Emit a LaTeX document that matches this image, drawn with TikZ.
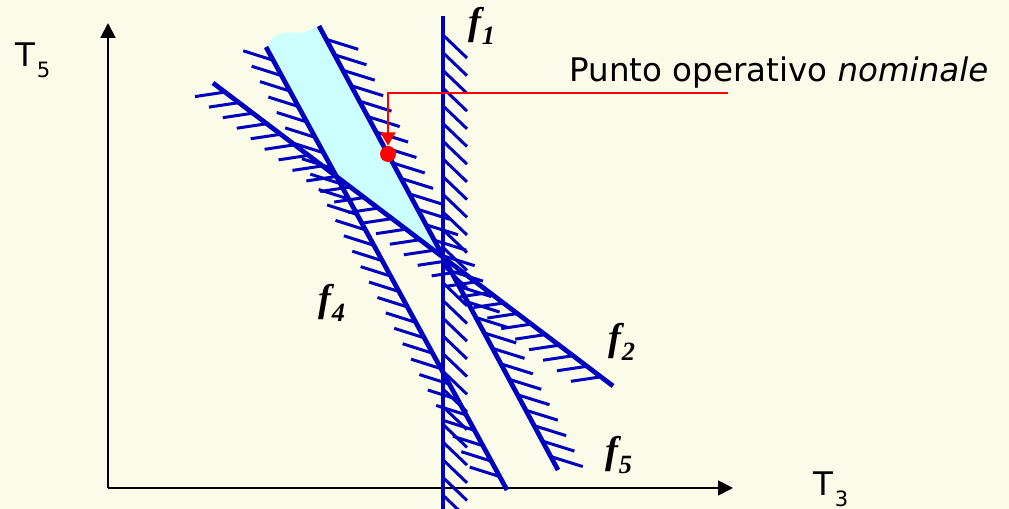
\documentclass[tikz,border=0pt]{standalone}
\usepackage{fontspec}
\setmainfont{DejaVu Sans}
\newfontfamily\labfont{Liberation Serif}
\usepackage{tikz}
\usetikzlibrary{arrows.meta,calc}
\definecolor{paper}{HTML}{FAFBE8}
\definecolor{bound}{HTML}{0000C0}
\definecolor{feas}{HTML}{CCFFFF}
\definecolor{opred}{HTML}{FF0000}
\tikzset{
  axis/.style={-{Triangle[length=8.5pt,width=8.5pt]},line width=1.1pt,draw=black},
  bline/.style={line width=2.7pt,draw=bound},
  hatch/.style={line width=1.7pt,draw=bound},
  flabel/.style={font=\labfont\bfseries\itshape\fontsize{22}{22}\selectfont,inner sep=0pt},
  axlabel/.style={font=\fontsize{18.5}{18.5}\selectfont,inner sep=0pt,anchor=base west},
  lead/.style={-{Triangle[length=7.5pt,width=8.5pt]},line width=1.1pt,draw=opred},
  opdot/.style={circle,fill=opred,inner sep=0pt,minimum size=0.32cm},
}
\newcommand{\fsub}[1]{\raisebox{-0.25em}{\fontsize{15}{15}\selectfont #1}}
\newcommand{\tsub}[1]{\kern1pt\raisebox{-5.7pt}{\fontsize{12}{12}\selectfont #1}}

\begin{document}
\begin{tikzpicture}[x=0.02cm,y=-0.02cm]
  \fill[paper] (0,0) rectangle (1009,509);
  \useasboundingbox (0,0) rectangle (1009,509);
  \coordinate (o) at (108,488); \coordinate (ytip) at (108,23); \coordinate (xtip) at (733,488);
  \coordinate (f1a) at (443,16); \coordinate (f1b) at (443,509);
  \coordinate (f2a) at (213,83); \coordinate (f2b) at (613,386);
  \coordinate (f4a) at (266,47); \coordinate (f4b) at (507,490);
  \coordinate (f5a) at (319,26); \coordinate (f5b) at (558,470);
  \coordinate (q) at (intersection of f4a--f4b and f2a--f2b);
  \coordinate (p) at (intersection of f2a--f2b and f5a--f5b);
  % feasible region
  \fill[feas] (f5a) -- (p) -- (q) -- (268,45) .. controls (272,34) and (285,31) .. (298,33)
    .. controls (304,34) and (310,29) .. (f5a) -- cycle;
  % axes
  \draw[axis] (o) -- (ytip); \draw[axis] (o) -- (xtip);
  \node[axlabel] (t5) at (15,67) {T\tsub{5}};
  \node[axlabel] (t3) at (813,496) {T\tsub{3}};
  % constraints and their hatching
  \foreach \k in {0,...,26} \draw[hatch] ($(f1a)+(0,19+17.7*\k)$) -- ++(24,23);
  \foreach \k in {0,...,27}{
    \draw[hatch] ($(f2a)!{0.03+0.0348*\k}!(f2b)$) -- ++(-30,4.5);
    \draw[hatch] ($(f4a)!{0.03+0.0348*\k}!(f4b)$) -- ++(-30,-9.5);
    \draw[hatch] ($(f5a)!{0.03+0.0348*\k}!(f5b)$) -- ++(32,10);
  }
  \draw[bline] (f1a) -- (f1b); \draw[bline] (f2a) -- (f2b);
  \draw[bline] (f4a) -- (f4b); \draw[bline] (f5a) -- (f5b);
  \node[flabel] (l1) at (482,26) {f\fsub{1}};
  \node[flabel] (l2) at (622,342) {f\fsub{2}};
  \node[flabel] (l4) at (332,303) {f\fsub{4}};
  \node[flabel] (l5) at (619,455) {f\fsub{5}};
  % operating point
  \node[opdot] (op) at (388,154) {};
  \node[axlabel] (opt) at (569,82) {Punto operativo \textit{nominale}};
  \coordinate (leadend) at (728,93);
  \draw[lead] (leadend) -| (op.north);
\end{tikzpicture}
\end{document}
